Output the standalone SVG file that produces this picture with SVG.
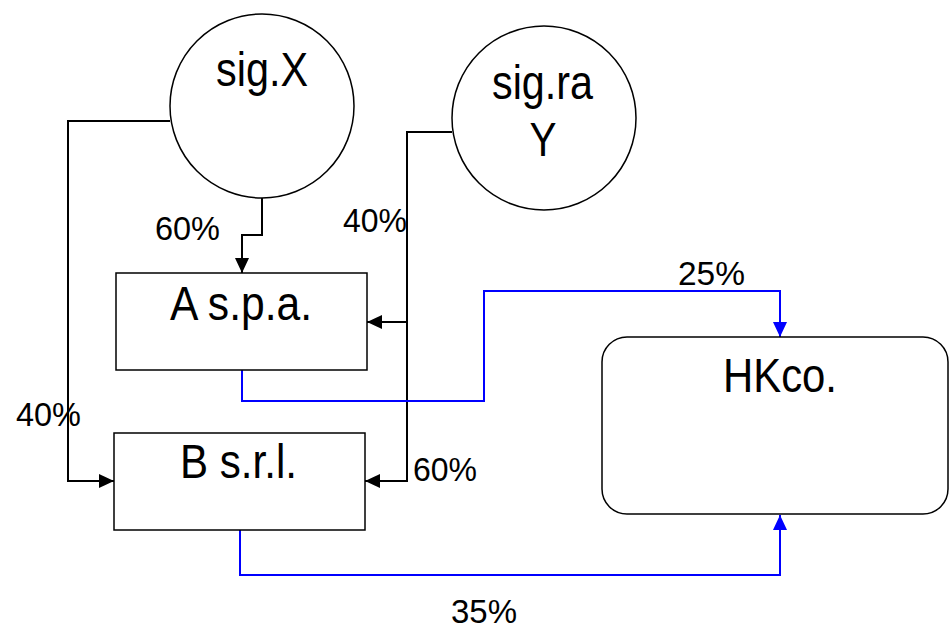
<svg xmlns="http://www.w3.org/2000/svg" width="949" height="629" viewBox="0 0 949 629">
<defs>
<style>
.node{fill:#fff;stroke:#000;stroke-width:1.5}
.big{font-family:"Liberation Sans",Arial,sans-serif;font-size:49px;fill:#000}
.lbl{font-family:"Liberation Sans",Arial,sans-serif;font-size:34px;fill:#000}
.blk{fill:none;stroke:#000;stroke-width:2}
.blu{fill:none;stroke:#0000ff;stroke-width:2}
</style>
<marker id="ab" markerUnits="userSpaceOnUse" markerWidth="16" markerHeight="14" refX="15" refY="7" orient="auto"><path d="M0,0 L15,7 L0,14 Z" fill="#000"/></marker>
<marker id="au" markerUnits="userSpaceOnUse" markerWidth="16" markerHeight="14" refX="15" refY="7" orient="auto"><path d="M0,0 L15,7 L0,14 Z" fill="#0000ff"/></marker>
</defs>
<rect width="949" height="629" fill="#fff"/>
<g id="connectors">
<path class="blk" d="M262,198 V235 H242 V273" marker-end="url(#ab)"/>
<path class="blk" d="M170,121 H68 V481 H114" marker-end="url(#ab)"/>
<path class="blk" d="M452,132 H407 V322 H367" marker-end="url(#ab)"/>
<path class="blk" d="M407,322 V481 H365" marker-end="url(#ab)"/>
<path class="blu" d="M242,370 V401 H484 V291 H780 V337" marker-end="url(#au)"/>
<path class="blu" d="M240,530 V575 H780 V515" marker-end="url(#au)"/>
</g>
<g id="sigX">
<circle class="node" cx="262" cy="106" r="92"/>
<text class="big" x="216" y="86" textLength="92" lengthAdjust="spacingAndGlyphs">sig.X</text>
</g>
<g id="sigraY">
<circle class="node" cx="544" cy="118" r="92"/>
<text class="big" x="492" y="99" textLength="101" lengthAdjust="spacingAndGlyphs">sig.ra</text>
<text class="big" x="543" y="156" text-anchor="middle" textLength="27" lengthAdjust="spacingAndGlyphs">Y</text>
</g>
<g id="Aspa">
<rect class="node" x="116" y="273" width="251" height="97"/>
<text class="big" x="170" y="320" textLength="142" lengthAdjust="spacingAndGlyphs">A s.p.a.</text>
</g>
<g id="Bsrl">
<rect class="node" x="114" y="433" width="251" height="97"/>
<text class="big" x="180" y="478" textLength="117" lengthAdjust="spacingAndGlyphs">B s.r.l.</text>
</g>
<g id="HKco">
<rect class="node" x="602" y="337" width="346" height="177" rx="25" ry="25"/>
<text class="big" x="723" y="392" textLength="114" lengthAdjust="spacingAndGlyphs">HKco.</text>
</g>
<g id="labels">
<text class="lbl" x="155" y="240" textLength="65" lengthAdjust="spacingAndGlyphs">60%</text>
<text class="lbl" x="343" y="232" textLength="64" lengthAdjust="spacingAndGlyphs">40%</text>
<text class="lbl" x="16" y="426" textLength="65" lengthAdjust="spacingAndGlyphs">40%</text>
<text class="lbl" x="413" y="481" textLength="64" lengthAdjust="spacingAndGlyphs">60%</text>
<text class="lbl" x="678" y="285" textLength="67" lengthAdjust="spacingAndGlyphs">25%</text>
<text class="lbl" x="451" y="623" textLength="66" lengthAdjust="spacingAndGlyphs">35%</text>
</g>
</svg>
